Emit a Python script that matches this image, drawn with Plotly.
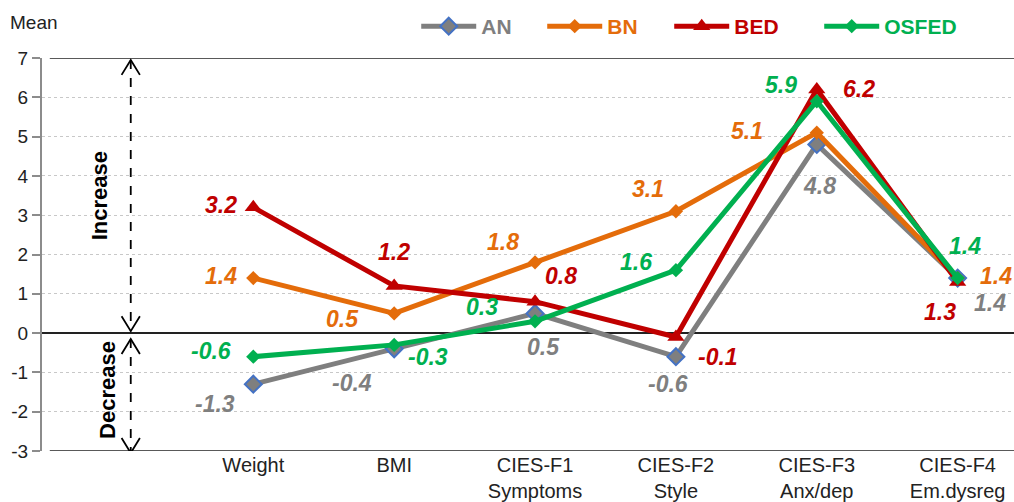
import plotly.graph_objects as go

categories = ["Weight", "BMI", "CIES-F1<br>Symptoms", "CIES-F2<br>Style", "CIES-F3<br>Anx/dep", "CIES-F4<br>Em.dysreg"]
series_names = ["AN", "BN", "BED", "OSFED"]
an_values = [-1.3, -0.4, 0.5, -0.6, 4.8, 1.4]
bn_values = [1.4, 0.5, 1.8, 3.1, 5.1, 1.4]
bed_values = [3.2, 1.2, 0.8, -0.1, 6.2, 1.3]
osfed_values = [-0.6, -0.3, 0.3, 1.6, 5.9, 1.4]
y_ticks = [-3, -2, -1, 0, 1, 2, 3, 4, 5, 6, 7]

values = {"AN": an_values, "BN": bn_values, "BED": bed_values, "OSFED": osfed_values}
colors = {"AN": "#7F7F7F", "BN": "#E46C0A", "BED": "#C00000", "OSFED": "#00B050"}
markers = {
    "AN": dict(symbol="diamond", size=13, color="#7F7F7F", line=dict(color="#4472C4", width=2)),
    "BN": dict(symbol="diamond", size=11, color="#E46C0A"),
    "BED": dict(symbol="triangle-up", size=15, color="#C00000"),
    "OSFED": dict(symbol="diamond", size=11, color="#00B050"),
}
legend_widths = {"AN": 56, "BN": 57, "BED": 80, "OSFED": 80}
# label offsets (px) per series per category
offsets = {
    "AN": [(-38, -20), (-42, -34), (8, -34), (-8, -27), (3, -42), (32, -25)],
    "BN": [(-32, 2), (-52, -6), (-32, 20), (-28, 22), (-70, 2), (38, 2)],
    "BED": [(-32, 2), (0, 34), (26, 26), (42, -20), (42, 0), (-18, -30)],
    "OSFED": [(-42, 6), (34, -12), (-53, 14), (-40, 8), (-36, 16), (7, 32)],
}

x_idx = list(range(len(categories)))
fig = go.Figure()
for name in series_names:
    fig.add_trace(go.Scatter(
        x=x_idx, y=values[name], mode="lines+markers",
        name=f"<b><span style='color:{colors[name]}'>{name}</span></b>",
        line=dict(color=colors[name], width=5),
        marker=markers[name],
        legendwidth=legend_widths[name],
    ))

label_font = "Liberation Sans, Arial"
for name in series_names:
    for i, v in enumerate(values[name]):
        dx, dy = offsets[name][i]
        fig.add_annotation(
            x=i, y=v, text=f"<b><i>{v:g}</i></b>", showarrow=False,
            xshift=dx, yshift=dy,
            font=dict(family=label_font, size=23, color=colors[name]),
        )

# horizontal frame lines at top and bottom
for yv in (7, -3):
    fig.add_shape(type="line", xref="paper", yref="y", x0=0.008, x1=1, y0=yv, y1=yv,
                  line=dict(color="#222222", width=1.5))

# dashed arrows
ax_x = -0.87
fig.add_shape(type="line", x0=ax_x, x1=ax_x, y0=6.95, y1=0.05,
              line=dict(color="black", width=1.8, dash="dash"))
fig.add_shape(type="line", x0=ax_x, x1=ax_x, y0=-0.15, y1=-3.05,
              line=dict(color="black", width=1.8, dash="dash"))
hw, hh = 0.065, 0.38
for tip, d in ((6.95, -1), (0.05, 1), (-0.15, -1), (-3.05, 1)):
    fig.add_shape(type="path",
                  path=f"M {ax_x-hw},{tip+d*hh} L {ax_x},{tip} L {ax_x+hw},{tip+d*hh}",
                  line=dict(color="black", width=1.8))

fig.add_annotation(x=-1.09, y=3.5, text="<b>Increase</b>", textangle=-90, showarrow=False,
                   font=dict(family="Liberation Sans, Arial", size=22, color="black"))
fig.add_annotation(x=-1.04, y=-1.45, text="<b>Decrease</b>", textangle=-90, showarrow=False,
                   font=dict(family="Liberation Sans, Arial", size=22, color="black"))
fig.add_annotation(xref="paper", yref="paper", x=-0.035, y=1.09, xanchor="left", yanchor="middle",
                   text="Mean", showarrow=False,
                   font=dict(family="Liberation Sans, Arial", size=19, color="#222222"))

fig.update_layout(
    width=1014, height=502,
    margin=dict(l=42, r=0, t=58, b=51, autoexpand=False),
    plot_bgcolor="white", paper_bgcolor="white",
    font=dict(family="Liberation Sans, Arial", size=19, color="#222222"),
    showlegend=True,
    legend=dict(orientation="h", x=0.385, y=1.08, xanchor="left", yanchor="middle",
                font=dict(family="Liberation Sans, Arial", size=21), bgcolor="rgba(0,0,0,0)",
                itemwidth=55, tracegroupgap=0),
    xaxis=dict(range=[-1.5, 5.4], tickvals=x_idx, ticktext=categories, showgrid=False,
               zeroline=False, showline=False, ticks="", automargin=False,
               tickfont=dict(family="Liberation Sans, Arial", size=20)),
    yaxis=dict(range=[-3, 7], tickvals=y_ticks, ticktext=[str(t) for t in y_ticks],
               showgrid=True, gridcolor="#C8C8C8", automargin=False,
               griddash="dot", gridwidth=1, zeroline=True, zerolinecolor="#222222", zerolinewidth=1.5,
               showline=True, linecolor="#8C8C8C", linewidth=2, ticks="outside", ticklen=8,
               tickcolor="#8C8C8C", tickwidth=2, tickfont=dict(size=19)),
)
fig.write_html("out.html", config={"displayModeBar": False},
               post_script="document.body.style.margin='0';")
